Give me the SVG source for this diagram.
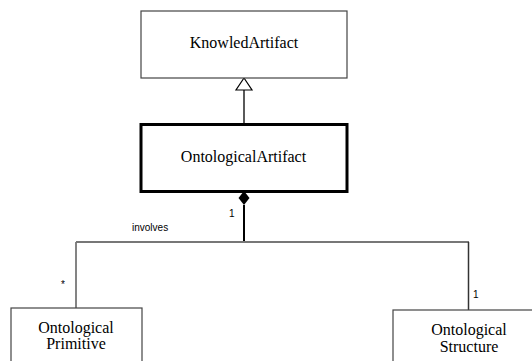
<svg xmlns="http://www.w3.org/2000/svg" width="532" height="361" viewBox="0 0 532 361">
  <style>
    .box { fill: #ffffff; stroke: #444444; stroke-width: 1.2; }
    .box-strong { fill: #ffffff; stroke: #000000; stroke-width: 3; }
    .name { font-size: 16px; fill: #000000; text-anchor: middle; }
    .lbl { font-size: 10px; fill: #000000; }
    .wire { fill: none; stroke: #000000; stroke-width: 1.3; }
    .bus { fill: none; stroke: #777777; stroke-width: 2; }
  </style>

  <g id="connectors" font-family="Liberation Sans, Arial, sans-serif">
    <!-- generalization: OntologicalArtifact -> KnowledArtifact -->
    <line class="wire" x1="244" y1="90" x2="244" y2="124"/>
    <polygon points="244,78 236,90 252,90" fill="#ffffff" stroke="#000000" stroke-width="1.2"/>
    <!-- composition from OntologicalArtifact -->
    <line x1="244" y1="205" x2="244" y2="242" stroke="#000000" stroke-width="2"/>
    <polygon points="244,191 238.5,198 244,205 249.5,198" fill="#000000"/>
    <!-- shared branch to the parts -->
    <line class="bus" x1="76" y1="242" x2="469" y2="242"/>
    <line x1="76" y1="242" x2="76" y2="308" stroke="#777777" stroke-width="1.8"/>
    <line x1="468.5" y1="242" x2="468.5" y2="310" stroke="#333333" stroke-width="1.5"/>
    <text class="lbl" x="229" y="217">1</text>
    <text class="lbl" x="132" y="231">involves</text>
    <text class="lbl" x="61" y="288">*</text>
    <text class="lbl" x="473" y="298">1</text>
  </g>

  <g font-family="Liberation Serif, Times New Roman, serif">
    <g id="knowled-artifact">
      <rect class="box" x="141" y="11" width="206" height="67"/>
      <text class="name" x="244" y="48">KnowledArtifact</text>
    </g>

    <g id="ontological-artifact">
      <rect class="box-strong" x="141" y="124.5" width="206" height="67"/>
      <text class="name" x="243.5" y="162">OntologicalArtifact</text>
    </g>

    <g id="ontological-primitive">
      <rect class="box" x="11" y="308" width="131" height="70"/>
      <text class="name" x="76" y="333">Ontological</text>
      <text class="name" x="76" y="349">Primitive</text>
    </g>

    <g id="ontological-structure">
      <rect class="box" x="393" y="310" width="150" height="70"/>
      <text class="name" x="469" y="335">Ontological</text>
      <text class="name" x="469" y="352">Structure</text>
    </g>
  </g>
</svg>
